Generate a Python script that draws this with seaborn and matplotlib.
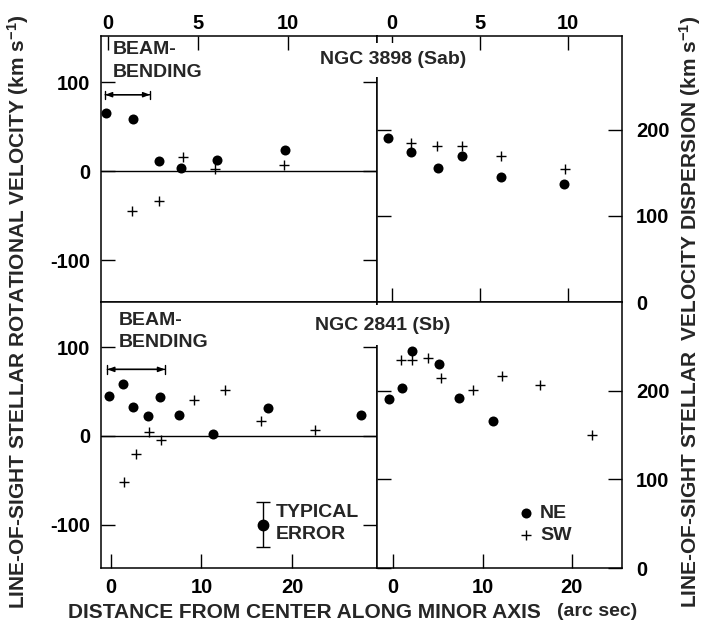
import matplotlib
matplotlib.use("Agg")
import pandas as pd
import matplotlib.pyplot as plt
import seaborn as sns

sns.set_style("white")
plt.rcParams["font.family"] = ["Liberation Sans", "DejaVu Sans"]
plt.rcParams["font.weight"] = "bold"
plt.rcParams["mathtext.fontset"] = "custom"
plt.rcParams["mathtext.rm"] = "Liberation Sans:bold"
plt.rcParams["mathtext.it"] = "Liberation Sans:bold"
plt.rcParams["axes.unicode_minus"] = False

# NGC 3898 (Sab): distance (arc sec) and velocity (km/s)
n3898_rot_ne_x = [-0.1, 1.4, 2.85, 4.05, 6.05, 9.85]
n3898_rot_ne_v = [66, 59, 11, 4, 13, 24]
n3898_rot_sw_x = [1.3, 2.8, 4.15, 5.95, 9.75]
n3898_rot_sw_v = [-45, -33, 16, 3, 7]
n3898_disp_ne_x = [-0.25, 1.1, 2.6, 4.0, 6.2, 9.75]
n3898_disp_ne_s = [190, 174, 156, 170, 145, 137]
n3898_disp_sw_x = [1.1, 2.55, 4.0, 6.2, 9.85]
n3898_disp_sw_s = [185, 181, 181, 170, 155]

# NGC 2841 (Sb)
n2841_rot_ne_x = [-0.2, 1.35, 2.4, 4.1, 5.4, 7.55, 11.25, 17.3, 27.6]
n2841_rot_ne_v = [45, 59, 33, 22, 44, 23, 2, 31, 24]
n2841_rot_sw_x = [1.45, 2.75, 4.25, 5.5, 9.15, 12.6, 16.6, 22.6]
n2841_rot_sw_v = [-52, -20, 4, -5, 41, 52, 17, 7]
n2841_disp_ne_x = [-0.45, 0.95, 2.1, 5.15, 7.4, 11.15]
n2841_disp_ne_s = [191, 203, 245, 230, 192, 166]
n2841_disp_sw_x = [0.85, 2.1, 3.9, 5.35, 8.9, 12.15, 16.4, 22.2]
n2841_disp_sw_s = [235, 235, 237, 214, 201, 216, 206, 150]

# beam-bending spans (arc sec) and typical error bar
beam_3898 = (-0.17, 2.33, 86)
beam_2841 = (-0.4, 5.97, 75)
typ_err_x, typ_err_v, typ_err = 16.8, -100, 25

W, H = 704, 624


def rect(xa, xb, ya, yb):
    return [xa / W, 1 - yb / H, (xb - xa) / W, (yb - ya) / H]


def draw_points(ax, xs_ne, ys_ne, xs_sw, ys_sw, label=False):
    ne = pd.DataFrame({"x": xs_ne, "y": ys_ne})
    sw = pd.DataFrame({"x": xs_sw, "y": ys_sw})
    sns.scatterplot(data=sw, x="x", y="y", marker="+", color="black", s=45,
                    linewidth=1.0, ax=ax, label="SW" if label else None, zorder=3)
    sns.scatterplot(data=ne, x="x", y="y", marker="o", color="black", s=52,
                    edgecolor="black", linewidth=0, ax=ax,
                    label="NE" if label else None, zorder=4)
    ax.set_xlabel("")
    ax.set_ylabel("")


def style_axes(ax):
    for sp in ax.spines.values():
        sp.set_color("black")
        sp.set_linewidth(1.1)
    ax.tick_params(direction="in", length=10, width=1.0, colors="black",
                   labelsize=14.5)


fig = plt.figure(figsize=(7.04, 6.24), dpi=100)
ax_tl = fig.add_axes(rect(101, 377, 36, 302))
ax_tr = fig.add_axes(rect(377, 622, 36, 302))
ax_bl = fig.add_axes(rect(101, 377, 302, 568))
ax_br = fig.add_axes(rect(377, 622, 302, 568))

draw_points(ax_tl, n3898_rot_ne_x, n3898_rot_ne_v, n3898_rot_sw_x, n3898_rot_sw_v)
draw_points(ax_tr, n3898_disp_ne_x, n3898_disp_ne_s, n3898_disp_sw_x, n3898_disp_sw_s)
draw_points(ax_bl, n2841_rot_ne_x, n2841_rot_ne_v, n2841_rot_sw_x, n2841_rot_sw_v)
draw_points(ax_br, n2841_disp_ne_x, n2841_disp_ne_s, n2841_disp_sw_x, n2841_disp_sw_s,
            label=True)

for ax in (ax_tl, ax_tr, ax_bl, ax_br):
    style_axes(ax)

# left panels: rotation
for ax in (ax_tl, ax_bl):
    ax.axhline(0, color="black", lw=1.0, zorder=1)
    ax.set_yticks([-100, 0, 100])
    ax.tick_params(axis="y", left=True, right=True, labelleft=True,
                   labelright=False, pad=8)

# right panels: dispersion
for ax in (ax_tr, ax_br):
    ax.set_yticks([0, 100, 200])
    ax.tick_params(axis="y", left=True, right=True, labelleft=False,
                   labelright=True, pad=10)

ax_tl.set_xlim(-0.4, 14.95)
ax_tl.set_ylim(-147, 152)
ax_tr.set_xlim(-0.85, 13.07)
ax_tr.set_ylim(0, 309)
ax_bl.set_xlim(-1.1, 29.4)
ax_bl.set_ylim(-149, 151)
ax_br.set_xlim(-1.8, 25.6)
ax_br.set_ylim(0, 300)

for ax in (ax_tl, ax_tr):
    ax.set_xticks([0, 5, 10])
    ax.tick_params(axis="x", top=True, labeltop=True, labelbottom=False, pad=2)
ax_tl.tick_params(axis="x", bottom=False)
ax_tr.tick_params(axis="x", bottom=True)

for ax in (ax_bl, ax_br):
    ax.set_xticks([0, 10, 20])
    ax.tick_params(axis="x", bottom=True, top=False, labelbottom=True, pad=7)

# beam-bending markers
for ax, (x0, x1, yb), tx, ty in ((ax_tl, beam_3898, 0.28, 146),
                                  (ax_bl, beam_2841, 0.9, 140)):
    ax.annotate("", xy=(x0, yb), xytext=(x1, yb),
                arrowprops=dict(arrowstyle="|-|,widthA=0.3,widthB=0.3",
                                color="black", lw=1.0, shrinkA=0, shrinkB=0))
    ax.annotate("", xy=(x0, yb), xytext=(x1, yb),
                arrowprops=dict(arrowstyle="<|-|>,head_length=0.4,head_width=0.15",
                                color="black", lw=1.0, shrinkA=0, shrinkB=0))
    ax.text(tx, ty, "BEAM-\nBENDING", ha="left", va="top", fontsize=14,
            fontweight="bold", linespacing=1.4)

# typical error
ax_bl.errorbar([typ_err_x], [typ_err_v], yerr=[typ_err], fmt="o", color="black",
               ms=7.5, capsize=5, elinewidth=1.0, capthick=1.0)
ax_bl.text(18.2, -99, "TYPICAL\nERROR", ha="left", va="center", fontsize=14,
           fontweight="bold", linespacing=1.4)

# legend
ax_br.legend(handles=ax_br.collections[::-1], labels=["NE", "SW"], frameon=False,
             loc="lower left", bbox_to_anchor=(0.53, 0.06), fontsize=14,
             handletextpad=0.1, borderaxespad=0, labelspacing=0.25,
             handlelength=1.2)

# galaxy names (white backing hides the shared spine, as in the original)
fig.text(320 / W, 1 - 60 / H, "NGC 3898 (Sab)", ha="left", va="center",
         fontsize=14, fontweight="bold", zorder=10,
         bbox=dict(facecolor="white", edgecolor="none", pad=6))
fig.text(315 / W, 1 - 325 / H, "NGC 2841 (Sb)", ha="left", va="center",
         fontsize=14, fontweight="bold", zorder=10,
         bbox=dict(facecolor="white", edgecolor="none", pad=8))

# axis titles
fig.text(18 / W, 0.5, "LINE-OF-SIGHT STELLAR ROTATIONAL VELOCITY (km s$^{-1}$)",
         rotation=90, ha="center", va="center", fontsize=15, fontweight="bold")
fig.text(690 / W, 0.5, "LINE-OF-SIGHT STELLAR  VELOCITY DISPERSION (km s$^{-1}$)",
         rotation=90, ha="center", va="center", fontsize=15, fontweight="bold")
fig.text(68 / W, 1 - 612 / H, "DISTANCE FROM CENTER ALONG MINOR AXIS",
         ha="left", va="center", fontsize=15, fontweight="bold")
fig.text(557 / W, 1 - 612 / H, "(arc sec)", ha="left", va="center",
         fontsize=14, fontweight="bold")

fig.savefig("out.png", dpi=100)
